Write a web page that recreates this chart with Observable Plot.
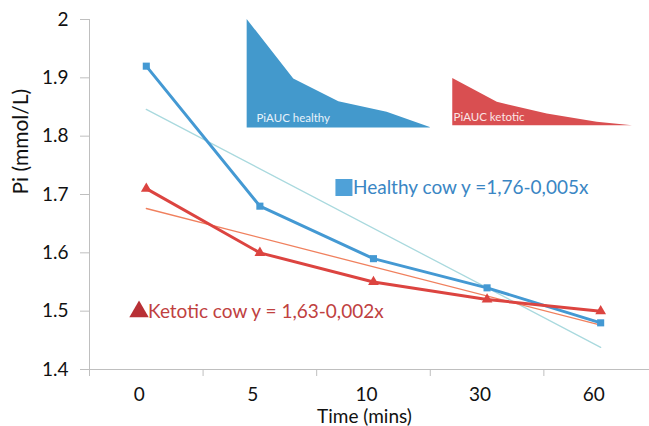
<!DOCTYPE html>
<html>
<head>
<meta charset="utf-8">
<script src="https://cdn.jsdelivr.net/npm/d3@7"></script>
<script src="https://cdn.jsdelivr.net/npm/@observablehq/plot@0.6"></script>
<style>
  html, body { margin: 0; padding: 0; background: #fff; }
  #chart svg { display: block; font-family: Lato, "Open Sans", sans-serif; }
</style>
</head>
<body>
<div id="chart"></div>
<script>
// ---- data ----
const timeLabels = ["0", "5", "10", "30", "60"];
const timeIndex = [0, 1, 2, 3, 4];
const healthy = [1.92, 1.68, 1.59, 1.54, 1.48];
const ketotic = [1.71, 1.60, 1.55, 1.52, 1.50];
// fitted trend lines (value at first and last time point)
const trendIndex = [0, 4];
const healthyTrend = [1.846, 1.438];
const ketoticTrend = [1.676, 1.476];
const yTicks = [1.4, 1.5, 1.6, 1.7, 1.8, 1.9, 2.0];
const bandEdges = [-0.5, 0.5, 1.5, 2.5, 3.5];
const xTitle = "Time (mins)";
const yTitle = "Pi (mmol/L)";

// PiAUC inset shapes
const aucHealthyX = [0.888, 1.298, 1.695, 2.12, 2.50];
const aucHealthyY = [2.0, 1.898, 1.859, 1.841, 1.815];
const aucHealthyBase = 1.814;
const aucKetoticX = [2.698, 3.09, 3.53, 3.97, 4.28];
const aucKetoticY = [1.899, 1.858, 1.838, 1.824, 1.818];
const aucKetoticBase = 1.818;

const labels = [
  {x: 0.97, y: 1.830, text: "PiAUC healthy", color: "#e8f2fa"},
  {x: 2.705, y: 1.833, text: "PiAUC ketotic", color: "#fbe6e6"}
];
const legendItems = [
  {x: 1.74, y: 1.712, symbol: "square", fill: "#4fa1d8", r: 9.6, text: "Healthy cow y =1,76-0,005x", color: "#3a86c4"},
  {x: -0.064, y: 1.499, symbol: "triangle", fill: "#b83035", r: 7.2, text: "Ketotic cow y = 1,63-0,002x", color: "#c0413f"}
];

// ---- build tables ----
const healthyRows = timeIndex.map((i, k) => ({i, v: healthy[k]}));
const ketoticRows = timeIndex.map((i, k) => ({i, v: ketotic[k]}));
const healthyTrendRows = trendIndex.map((i, k) => ({i, v: healthyTrend[k]}));
const ketoticTrendRows = trendIndex.map((i, k) => ({i, v: ketoticTrend[k]}));
const aucH = aucHealthyX.map((x, k) => ({x, y: aucHealthyY[k]}));
const aucK = aucKetoticX.map((x, k) => ({x, y: aucKetoticY[k]}));

const axisGray = "#bfbfbf";
const blue = "#4499d3";
const red = "#dc4440";

const chart = Plot.plot({
  width: 649,
  height: 426,
  marginLeft: 89,
  marginRight: 0,
  marginTop: 19,
  marginBottom: 57,
  style: {fontFamily: "Lato, 'Open Sans', sans-serif", background: "#fff", overflow: "visible"},
  x: {type: "linear", domain: [-0.5, 4.43]},
  y: {domain: [1.4, 2.0]},
  r: {type: "identity"},
  marks: [
    // AUC insets
    Plot.areaY(aucH, {x: "x", y1: aucHealthyBase, y2: "y", fill: "#4399cc", curve: "linear"}),
    Plot.areaY(aucK, {x: "x", y1: aucKetoticBase, y2: "y", fill: "#d94f51", curve: "linear"}),
    Plot.text(labels, {x: "x", y: "y", text: "text", fill: "color", textAnchor: "start", fontSize: 11.5}),

    // axes
    Plot.ruleX([-0.5], {y1: 1.4, y2: 2.0, stroke: axisGray}),
    Plot.ruleY([1.4], {stroke: axisGray}),
    Plot.axisY({ticks: yTicks, tickSize: 9, tickPadding: 12, stroke: axisGray, fill: "#111",
      tickFormat: d => d === 2 ? "2" : d.toFixed(1), fontSize: 19, label: null}),
    Plot.axisX({ticks: bandEdges, tickSize: 7, stroke: axisGray, fill: "none", label: null}),
    Plot.axisX({ticks: timeIndex, tickSize: 0, tickPadding: 18, fill: "#111", dx: -7,
      tickFormat: i => timeLabels[i], fontSize: 19, label: null}),
    Plot.text([xTitle], {frameAnchor: "bottom", lineAnchor: "middle", dy: 47, dx: -5, fontSize: 19, fill: "#111"}),
    Plot.text([yTitle], {frameAnchor: "left", dx: -68, rotate: -90, fontSize: 21, fill: "#111"}),

    // trend lines
    Plot.line(healthyTrendRows, {x: "i", y: "v", stroke: "#a9d9de", strokeWidth: 1.3}),
    Plot.line(ketoticTrendRows, {x: "i", y: "v", stroke: "#f0805e", strokeWidth: 1.3}),

    // data lines
    Plot.line(healthyRows, {x: "i", y: "v", stroke: blue, strokeWidth: 3}),
    Plot.dot(healthyRows, {x: "i", y: "v", symbol: "square", r: 4, fill: blue}),
    Plot.line(ketoticRows, {x: "i", y: "v", stroke: red, strokeWidth: 3}),
    Plot.dot(ketoticRows, {x: "i", y: "v", symbol: "triangle", r: 4, fill: red}),

    // legends
    Plot.dot(legendItems, {x: "x", y: "y", symbol: "symbol", fill: "fill", r: "r"}),
    Plot.text(legendItems, {x: "x", y: "y", text: "text", fill: "color", textAnchor: "start", dx: 9, fontSize: 19})
  ]
});
document.getElementById("chart").appendChild(chart);
</script>
</body>
</html>
